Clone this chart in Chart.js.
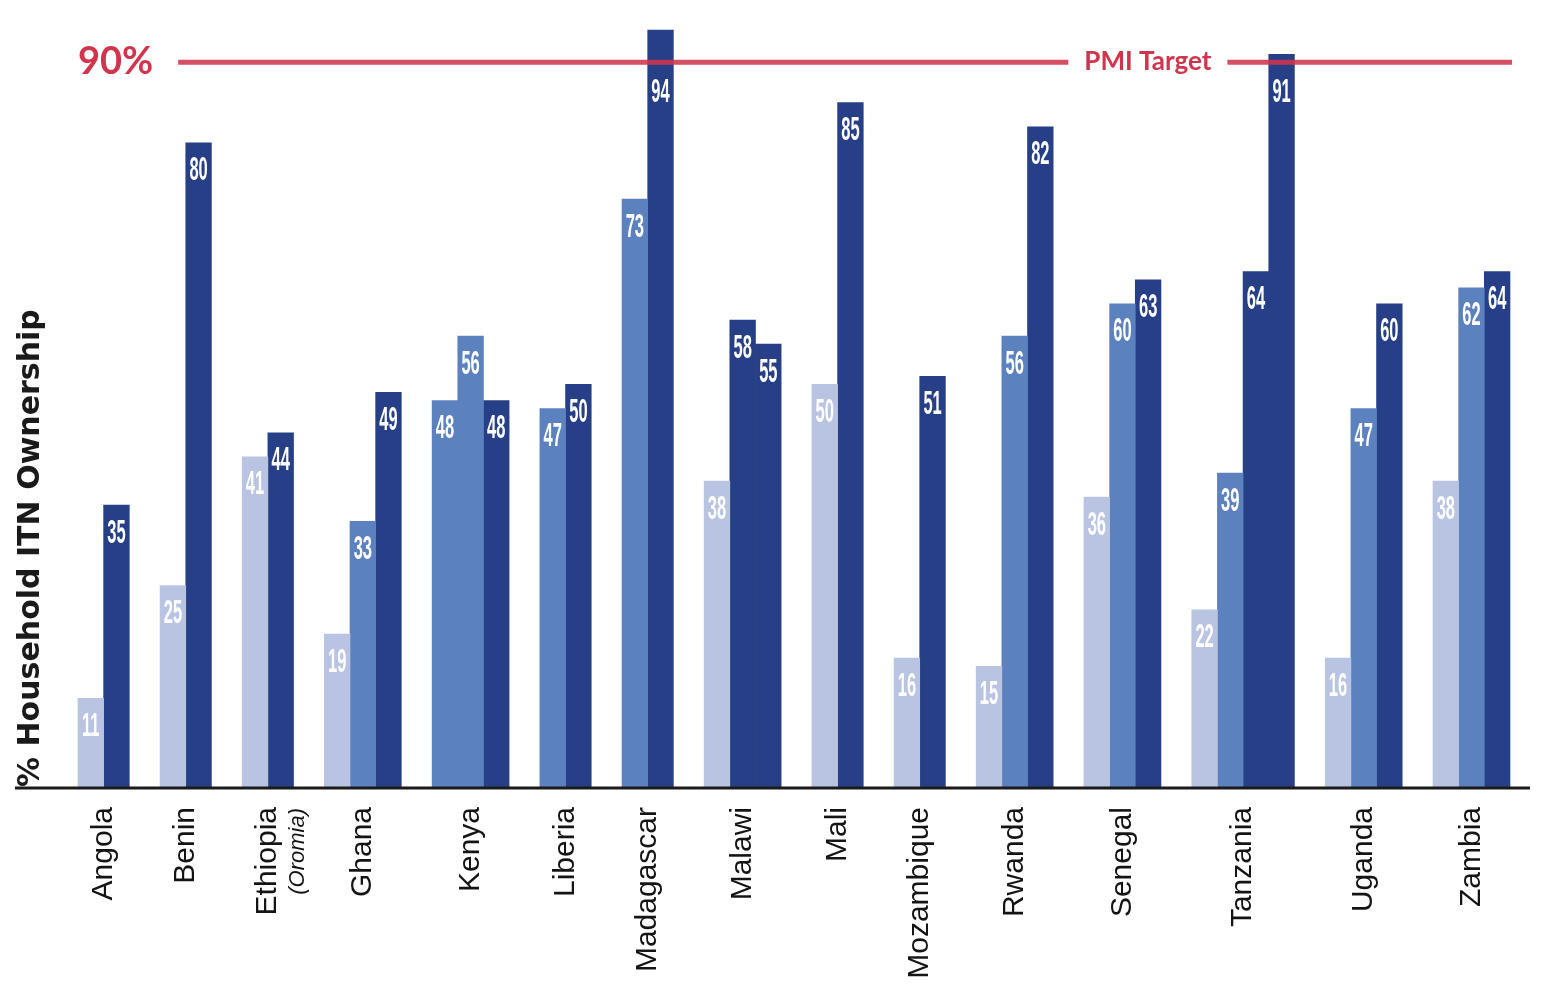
<!DOCTYPE html>
<html>
<head>
<meta charset="utf-8">
<script src="https://cdn.jsdelivr.net/npm/chart.js@4.4.1/dist/chart.umd.min.js"></script>
<style>
  html, body { margin: 0; padding: 0; background: #ffffff; }
  canvas { display: block; }
</style>
</head>
<body>
<canvas id="itn" width="1545" height="993"></canvas>
<script>
// Countries and survey results (% of households owning at least one ITN)
const countries = ['Angola', 'Benin', 'Ethiopia', 'Ghana', 'Kenya', 'Liberia', 'Madagascar',
  'Malawi', 'Mali', 'Mozambique', 'Rwanda', 'Senegal', 'Tanzania', 'Uganda', 'Zambia'];
const countryNotes = ['', '', '(Oromia)', '', '', '', '', '', '', '', '', '', '', '', ''];

const baseline     = [11, 25, 41, 19, null, null, null, 38, 50, 16, 15, 36, 22, 16, 38];
const interim      = [null, null, null, 33, 48, 47, 73, null, null, null, 56, 60, 39, 47, 62];
const interimExtra = [null, null, null, null, 56, null, null, null, null, null, null, null, null, null, null];
const latest       = [35, 80, 44, 49, 48, 50, 94, 58, 85, 51, 82, 63, 64, 60, 64];
const latestExtra  = [null, null, null, null, null, null, null, 55, null, null, null, null, 91, null, null];

const targetValue = 90;
const targetTickLabel = '90%';
const targetName = 'PMI Target';
const yAxisTitle = '% Household ITN Ownership';

// Colours
const LIGHT = '#b8c4e2';
const MID = '#5b82bf';
const DARK = '#263f86';
const TARGET_RED = '#d0354d';

const seriesList = [
  { label: 'Baseline survey', values: baseline, color: LIGHT },
  { label: 'Interim survey', values: interim, color: MID },
  { label: 'Interim survey (second)', values: interimExtra, color: MID },
  { label: 'Latest survey', values: latest, color: DARK },
  { label: 'Latest survey (second)', values: latestExtra, color: DARK }
];

// Group layout: bars within a country touch, countries separated by a fixed gap (in bar widths)
const GROUP_GAP = 1.2;
const barsPerCountry = countries.map((_, i) => seriesList.filter(s => s.values[i] != null).length);
const centers = [];
let cursor = 0;
barsPerCountry.forEach(n => { centers.push(cursor + n / 2); cursor += n + GROUP_GAP; });
const span = cursor - GROUP_GAP;

const datasets = seriesList.map(s => ({
  label: s.label,
  data: s.values.map((v, i) => ({ x: centers[i], y: v })),
  backgroundColor: s.color,
  borderWidth: 0,
  skipNull: true,
  grouped: true
}));

// White value labels inside the top of every bar
const valueLabels = {
  id: 'valueLabels',
  afterDatasetsDraw(chart) {
    const { ctx } = chart;
    const lineY = chart.scales.y.getPixelForValue(targetValue);
    ctx.save();
    ctx.fillStyle = '#ffffff';
    ctx.textAlign = 'center';
    ctx.textBaseline = 'top';
    ctx.font = 'bold 33px "Liberation Sans", Arial, sans-serif';
    chart.data.datasets.forEach((ds, di) => {
      const meta = chart.getDatasetMeta(di);
      meta.data.forEach((bar, j) => {
        const v = ds.data[j].y;
        if (v == null) return;
        const top = Math.max(bar.y + 12, lineY + 14);
        ctx.save();
        ctx.translate(bar.x, top);
        ctx.scale(0.5, 1);
        ctx.fillText(String(v), 0, 0);
        ctx.restore();
      });
    });
    ctx.restore();
  }
};

// Target line with its "90%" tick and name
const targetLine = {
  id: 'targetLine',
  afterDatasetsDraw(chart) {
    const { ctx, chartArea } = chart;
    const xs = chart.scales.x;
    const y = chart.scales.y.getPixelForValue(targetValue);
    const textLeft = xs.getPixelForValue(0);
    ctx.save();
    ctx.fillStyle = TARGET_RED;
    ctx.textBaseline = 'middle';
    ctx.textAlign = 'left';
    ctx.font = 'bold 38px Lato, "Open Sans", sans-serif';
    ctx.fillText(targetTickLabel, textLeft, y - 1);
    const lineStart = textLeft + ctx.measureText(targetTickLabel).width + 25;
    const lineEnd = chartArea.right - 18;

    ctx.font = 'bold 26px Lato, "Open Sans", sans-serif';
    const nameWidth = ctx.measureText(targetName).width;
    const nameCenter = lineStart + (lineEnd - lineStart) * 0.727;
    const gapL = nameCenter - nameWidth / 2 - 16;
    const gapR = nameCenter + nameWidth / 2 + 16;

    ctx.globalAlpha = 0.88;
    ctx.strokeStyle = TARGET_RED;
    ctx.lineWidth = 5;
    ctx.beginPath();
    ctx.moveTo(lineStart, y); ctx.lineTo(gapL, y);
    ctx.moveTo(gapR, y); ctx.lineTo(lineEnd, y);
    ctx.stroke();
    ctx.globalAlpha = 1;
    ctx.textAlign = 'center';
    ctx.fillText(targetName, nameCenter, y - 1);
    ctx.restore();
  }
};

// Baseline rule and the small notes under country names
const axisExtras = {
  id: 'axisExtras',
  afterDraw(chart) {
    const { ctx, chartArea } = chart;
    const xs = chart.scales.x;
    ctx.save();
    ctx.strokeStyle = '#1b1b1b';
    ctx.lineWidth = 3;
    ctx.beginPath();
    ctx.moveTo(15, chartArea.bottom + 1);
    ctx.lineTo(chartArea.right, chartArea.bottom + 1);
    ctx.stroke();

    ctx.fillStyle = '#151515';
    ctx.font = 'italic 22px "Liberation Sans", Arial, sans-serif';
    ctx.textAlign = 'right';
    ctx.textBaseline = 'middle';
    countryNotes.forEach((note, i) => {
      if (!note) return;
      const px = xs.getPixelForValue(centers[i]) + 30;
      ctx.save();
      ctx.translate(px, chartArea.bottom + 21);
      ctx.rotate(-Math.PI / 2);
      ctx.fillText(note, 0, 0);
      ctx.restore();
    });
    ctx.restore();
  }
};

const chart = new Chart(document.getElementById('itn'), {
  type: 'bar',
  data: { datasets },
  options: {
    responsive: false,
    animation: false,
    devicePixelRatio: 1,
    layout: { padding: { top: 14, right: 15, bottom: 0, left: 0 } },
    plugins: {
      legend: { display: false },
      tooltip: { enabled: false }
    },
    scales: {
      x: {
        type: 'linear',
        min: -0.7,
        max: span + 0.78,
        offset: false,
        grid: { display: false, drawTicks: false },
        border: { display: false },
        afterBuildTicks(axis) { axis.ticks = centers.map(v => ({ value: v })); },
        afterFit(axis) { axis.height = 206; },
        ticks: {
          autoSkip: false,
          minRotation: 90,
          maxRotation: 90,
          padding: 20,
          color: '#141414',
          font: { family: '"Liberation Sans", Arial, sans-serif', size: 30 },
          callback: (value, index) => countries[index]
        }
      },
      y: {
        min: 0,
        max: 96,
        grid: { display: false, drawTicks: false },
        border: { display: false },
        ticks: { display: false },
        afterFit(axis) { axis.width = 60; },
        title: {
          display: true,
          text: yAxisTitle,
          align: 'start',
          color: '#1a1a1a',
          padding: { top: 13, bottom: 0 },
          font: { family: '"DejaVu Sans", sans-serif', size: 30, weight: 'bold' }
        }
      }
    }
  },
  plugins: [valueLabels, targetLine, axisExtras]
});

// Bars are exactly one x unit wide, so neighbouring bars in a country touch
const xs = chart.scales.x;
const barWidth = xs.getPixelForValue(1) - xs.getPixelForValue(0);
chart.data.datasets.forEach(ds => { ds.barThickness = barWidth; });
chart.update('none');
</script>
</body>
</html>
